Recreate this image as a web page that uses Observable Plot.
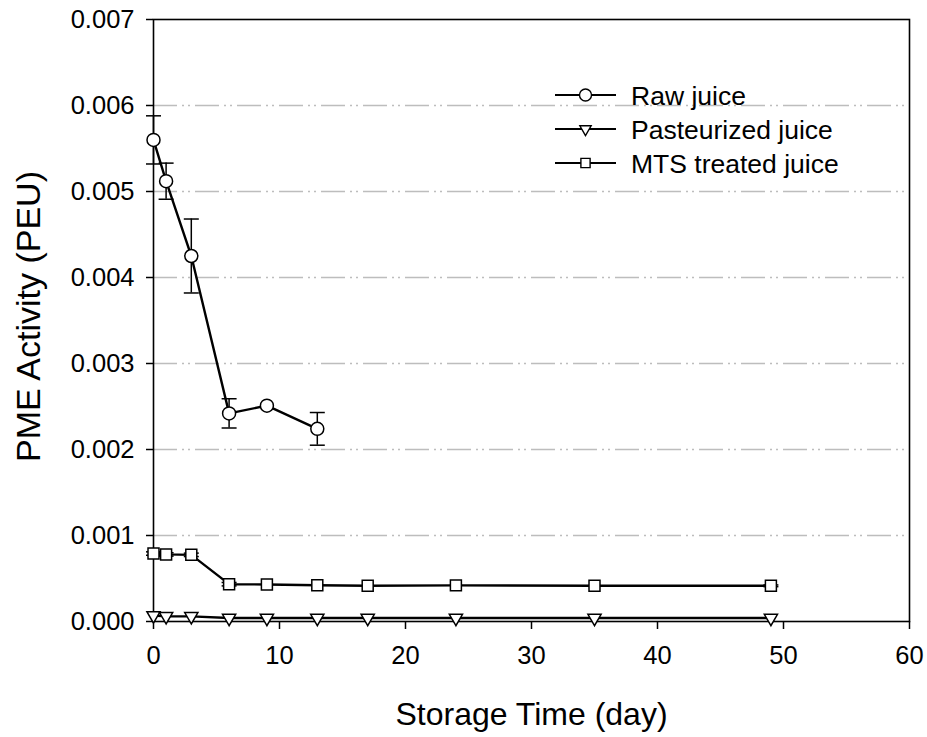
<!DOCTYPE html>
<html><head><meta charset="utf-8">
<script src="https://cdn.jsdelivr.net/npm/d3@7"></script>
<script src="https://cdn.jsdelivr.net/npm/@observablehq/plot@0.6"></script>
<style>
body{margin:0;background:#fff;font-family:"Liberation Sans",Arial,sans-serif}
#wrap{position:relative;width:927px;height:737px}
#wrap svg.overlay{position:absolute;left:0;top:0;pointer-events:none}
</style></head><body><div id="wrap"></div>
<script>
// ---- data ----
const seriesNames = ["Raw juice", "Pasteurized juice", "MTS treated juice"];
const rawDays = [0, 1, 3, 6, 9, 13];
const rawValues = [0.00560, 0.00512, 0.00425, 0.00242, 0.00251, 0.00224];
const rawErrors = [0.00028, 0.00021, 0.00043, 0.00017, 0, 0.00019];
const days = [0, 1, 3, 6, 9, 13, 17, 24, 35, 49];
const pastValues = [0.00007, 0.00006, 0.00006, 0.00004, 0.00004, 0.00004, 0.00004, 0.00004, 0.00004, 0.00004];
const pastErrors = [0, 0, 0, 0, 0, 0, 0, 0, 0, 0];
const mtsValues = [0.00079, 0.00078, 0.000775, 0.000434, 0.00043, 0.000422, 0.000415, 0.00042, 0.000415, 0.000415];
const mtsErrors = [0.00002, 0.00002, 0.00002, 0.00002, 0, 0, 0, 0, 0, 0.00001];
const yTicks = [0, 0.001, 0.002, 0.003, 0.004, 0.005, 0.006, 0.007];
const gridTicks = [0.001, 0.002, 0.003, 0.004, 0.005, 0.006];
const xTicks = [0, 10, 20, 30, 40, 50, 60];
const xTitle = "Storage Time (day)";
const yTitle = "PME Activity (PEU)";

// ---- tables ----
const raw = rawDays.map((x, i) => ({series: seriesNames[0], x, y: rawValues[i], e: rawErrors[i]}));
const past = days.map((x, i) => ({series: seriesNames[1], x, y: pastValues[i], e: pastErrors[i]}));
const mts = days.map((x, i) => ({series: seriesNames[2], x, y: mtsValues[i], e: mtsErrors[i]}));
const all = [...raw, ...past, ...mts];
const errRows = all.filter(d => d.e > 0);

const capSymbol = {draw(ctx) { ctx.moveTo(-7.5, 0); ctx.lineTo(7.5, 0); }};
const FONT = "'Liberation Sans', Arial, sans-serif";

const chart = Plot.plot({
  width: 927, height: 737,
  marginLeft: 153, marginRight: 18, marginTop: 19, marginBottom: 116,
  style: {fontFamily: FONT, fontSize: "25.5px", color: "black", background: "white"},
  x: {domain: [0, 60]},
  y: {domain: [0, 0.007]},
  marks: [
    Plot.gridY(gridTicks, {stroke: "#bdbdbd", strokeOpacity: 1, strokeWidth: 1.5, strokeDasharray: "24,5,2,4,2,5"}),
    Plot.frame({stroke: "black", strokeWidth: 1.6}),
    Plot.axisY(yTicks, {tickFormat: d3.format(".3f"), tickSize: 7, tickPadding: 12, strokeWidth: 1.5, label: null}),
    Plot.axisX(xTicks, {tickFormat: d3.format("d"), tickSize: 8, tickPadding: 16, strokeWidth: 1.5, label: null}),
    Plot.text([xTitle], {text: d => d, frameAnchor: "bottom", textAnchor: "middle", dy: 93, fontSize: 32, lineAnchor: "middle"}),
    Plot.text([yTitle], {text: d => d, frameAnchor: "left", textAnchor: "middle", dx: -124, dy: -4, rotate: -90, fontSize: 34, lineAnchor: "middle"}),
    Plot.ruleX(errRows, {x: "x", y1: d => d.y - d.e, y2: d => d.y + d.e, stroke: "black", strokeWidth: 1.5}),
    Plot.dot(errRows, {x: "x", y: d => d.y + d.e, symbol: capSymbol, r: 5, stroke: "black", strokeWidth: 1.5, fill: "none"}),
    Plot.dot(errRows, {x: "x", y: d => d.y - d.e, symbol: capSymbol, r: 5, stroke: "black", strokeWidth: 1.5, fill: "none"}),
    Plot.line(all, {x: "x", y: "y", z: "series", stroke: "black", strokeWidth: 2.4}),
    Plot.dot(raw, {x: "x", y: "y", symbol: "circle", r: 6.5, fill: "white", stroke: "black", strokeWidth: 1.5}),
    Plot.dot(past, {x: "x", y: "y", symbol: "triangle", r: 4.9, rotate: 180, fill: "white", stroke: "black", strokeWidth: 1.5}),
    Plot.dot(mts, {x: "x", y: "y", symbol: "square", r: 6.2, fill: "white", stroke: "black", strokeWidth: 1.5})
  ]
});
const wrap = document.getElementById("wrap");
wrap.appendChild(chart);

// ---- legend overlay ----
const legendSymbols = [
  {type: d3.symbolCircle, size: Math.PI * 6 * 6, rot: 0},
  {type: d3.symbolTriangle, size: Math.PI * 4.2 * 4.2, rot: 180},
  {type: d3.symbolSquare, size: Math.PI * 5.2 * 5.2, rot: 0}
];
const svg = d3.select(wrap).append("svg").attr("class", "overlay").attr("width", 927).attr("height", 737);
const g = svg.selectAll("g").data(seriesNames).join("g")
  .attr("transform", (d, i) => `translate(0,${95 + i * 34})`);
g.append("line").attr("x1", 555).attr("x2", 616).attr("y1", 0).attr("y2", 0).attr("stroke", "black").attr("stroke-width", 2.2);
g.append("path").attr("d", (d, i) => d3.symbol().type(legendSymbols[i].type).size(legendSymbols[i].size)())
  .attr("transform", (d, i) => `translate(585.5,0) rotate(${legendSymbols[i].rot})`)
  .attr("fill", "white").attr("stroke", "black").attr("stroke-width", 1.4);
g.append("text").attr("x", 631).attr("y", 0).attr("dy", "0.36em").text(d => d)
  .attr("font-family", FONT).attr("font-size", 26.5).attr("fill", "black");
</script></body></html>
